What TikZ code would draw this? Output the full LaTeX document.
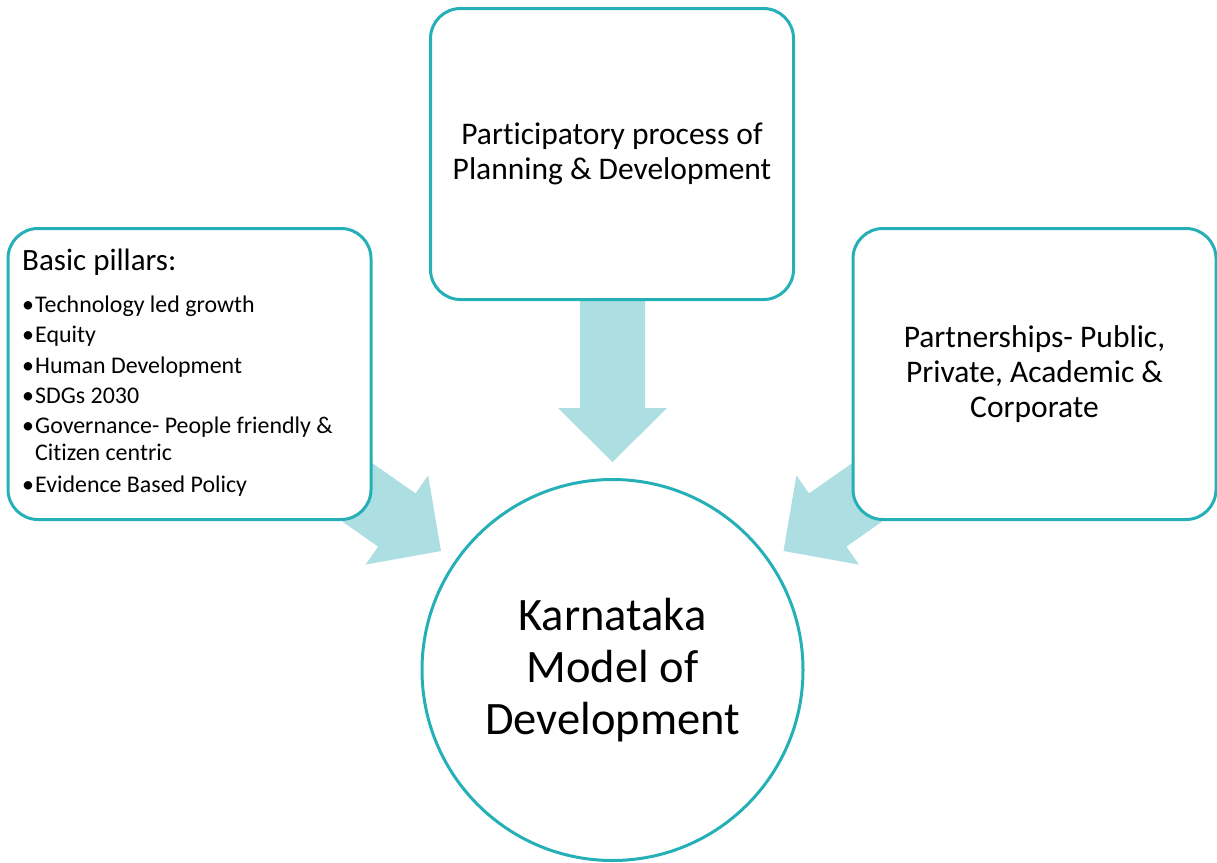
\documentclass[tikz,border=0pt]{standalone}
\usepackage{fontspec}
\setmainfont[Ligatures=NoCommon]{Carlito}
\definecolor{tealline}{HTML}{25B0B8}
\definecolor{arrowfill}{HTML}{ADDEE1}
\begin{document}
\begin{tikzpicture}[x=1pt,y=-1pt,
  box/.style={draw=tealline,line width=3pt,fill=white,rounded corners=30pt,
    minimum width=363pt,minimum height=291pt,inner sep=0pt,align=center,
    font=\fontsize{31.5}{35}\selectfont},
  bigcircle/.style={draw=tealline,line width=3pt,fill=white,circle,
    minimum size=381pt,inner sep=0pt,align=center,
    font=\fontsize{46.5}{52}\selectfont},
  blockarrow/.style={fill=arrowfill,draw=none},
  item/.style={anchor=base west,inner sep=0pt,font=\fontsize{23.9}{27}\selectfont}
]
\useasboundingbox (0,0) rectangle (1217,862);
% block arrows (behind the boxes)
\fill[blockarrow] (580,290) -- (645,290) -- (645,408) -- (667,408) -- (612.5,462)
  -- (558,408) -- (580,408) -- cycle;
\fill[blockarrow] (317.2,424.5) -- (415.5,493.4) -- (428.1,475.4) -- (441,551)
  -- (365.5,564.6) -- (378.1,546.6) -- (279.8,477.7) -- cycle;
\fill[blockarrow] (907.3,424.5) -- (809.0,493.4) -- (796.4,475.4) -- (783.5,551)
  -- (859.0,564.6) -- (846.4,546.6) -- (944.7,477.7) -- cycle;
% boxes
\node[box] (top) at (612,154) {Participatory process of\\Planning \& Development};
\node[box] (left) at (189.5,374) {};
\node[box] (right) at (1034.5,374) {Partnerships- Public,\\Private, Academic \&\\Corporate};
\node[bigcircle] (kmd) at (612.5,670) {Karnataka\\Model of\\Development};
% left box content
\node[anchor=base west,inner sep=0pt,font=\fontsize{31}{35}\selectfont] (title) at (22,270) {Basic pillars:};
\node[item] (i1) at (22,312) {\hbox to 13pt{•\hss}Technology led growth};
\node[item] (i2) at (22,342) {\hbox to 13pt{•\hss}Equity};
\node[item] (i3) at (22,373) {\hbox to 13pt{•\hss}Human Development};
\node[item] (i4) at (22,403) {\hbox to 13pt{•\hss}SDGs 2030};
\node[item] (i5) at (22,433) {\hbox to 13pt{•\hss}Governance- People friendly \&};
\node[item] (i5b) at (35,460) {Citizen centric};
\node[item] (i6) at (22,492) {\hbox to 13pt{•\hss}Evidence Based Policy};
\end{tikzpicture}
\end{document}
